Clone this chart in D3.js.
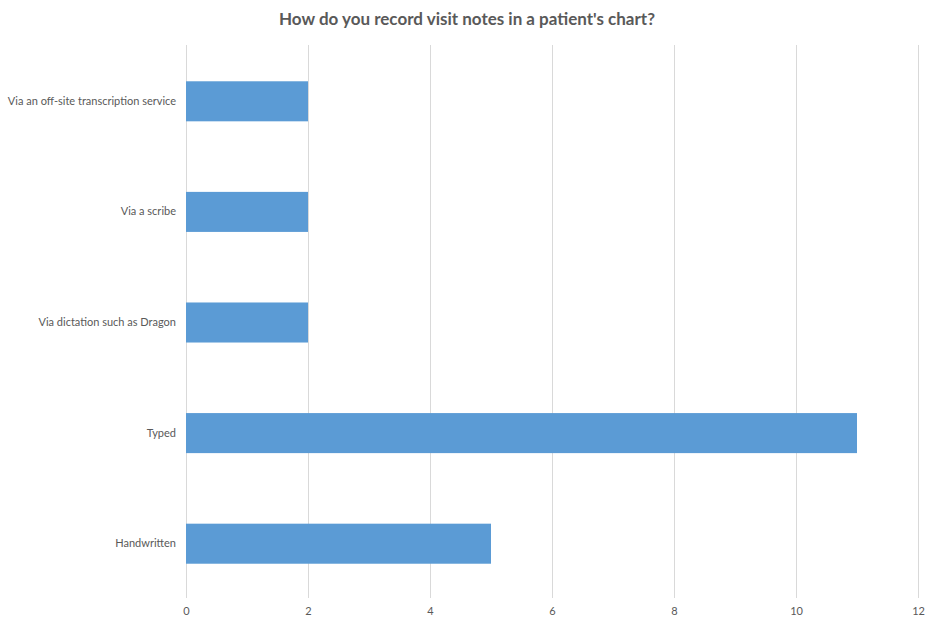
<!DOCTYPE html>
<html><head><meta charset="utf-8">
<script src="https://cdn.jsdelivr.net/npm/d3@7"></script>
<style>body{margin:0;background:#fff;}svg{display:block;}</style>
</head><body>
<svg id="c" width="935" height="623"></svg>
<script>
const categories = ["Via an off-site transcription service","Via a scribe","Via dictation such as Dragon","Typed","Handwritten"];
const values = [2,2,2,11,5];
const xTicks = [0,2,4,6,8,10,12];
const title = "How do you record visit notes in a patient's chart?";

const svg = d3.select("#c");
const font = "Lato, 'Open Sans', sans-serif";
const margin = {left:186, right:17, top:45, bottom:25};
const W = 935, H = 623;
const x = d3.scaleLinear().domain([0,12]).range([margin.left, W-margin.right]);
const y = d3.scaleBand().domain(categories).range([margin.top+1, H-margin.bottom+1]).paddingInner(0.638).paddingOuter(0.319);

svg.append("text").attr("x", 467).attr("y", 25).attr("text-anchor","middle")
  .attr("font-family", font).attr("font-weight","bold").attr("font-size",17).attr("fill","#595959").text(title);

const grid = svg.append("g");
grid.selectAll("line").data(xTicks).join("line")
  .attr("x1", d=>x(d)).attr("x2", d=>x(d)).attr("y1", margin.top).attr("y2", H-margin.bottom)
  .attr("stroke","#d9d9d9").attr("stroke-width",1).attr("shape-rendering","crispEdges");

svg.append("g").selectAll("rect").data(values).join("rect")
  .attr("x", x(0)).attr("y", (d,i)=>y(categories[i]))
  .attr("width", d=>x(d)-x(0)).attr("height", y.bandwidth())
  .attr("fill","#5b9bd5");

const xa = svg.append("g").attr("transform",`translate(0,${H-margin.bottom})`)
  .call(d3.axisBottom(x).tickValues(xTicks).tickSize(0).tickPadding(9));
xa.select(".domain").remove();
xa.selectAll("text").attr("font-family",font).attr("font-size",11).attr("fill","#595959");

const ya = svg.append("g").attr("transform",`translate(${margin.left},0)`)
  .call(d3.axisLeft(y).tickSize(0).tickPadding(10));
ya.select(".domain").remove();
ya.selectAll("text").attr("font-family",font).attr("font-size",11).attr("fill","#595959");
</script>
</body></html>
